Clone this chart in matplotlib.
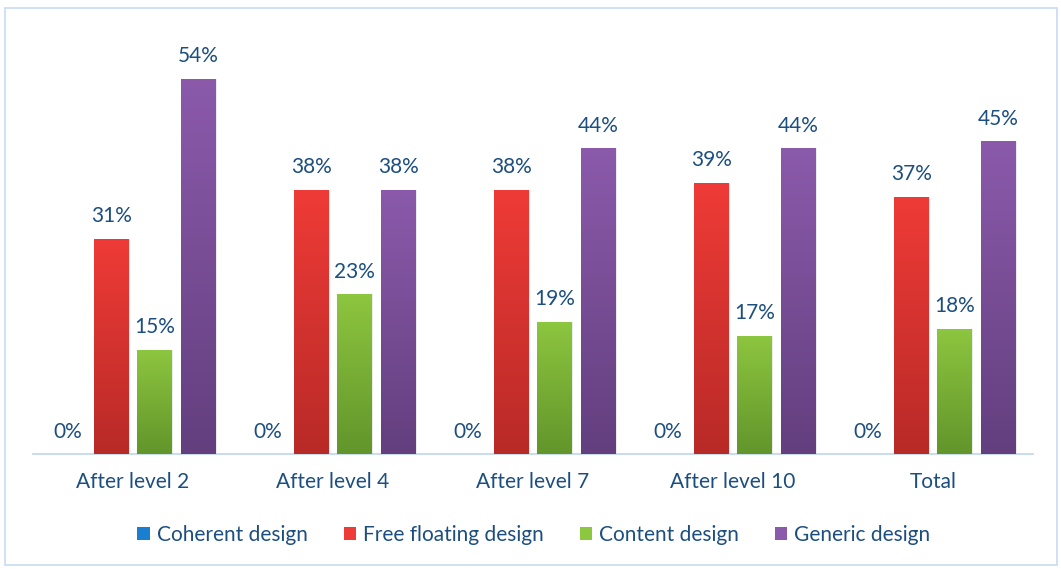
import numpy as np
import matplotlib.pyplot as plt
from matplotlib.patches import Rectangle, Patch
from matplotlib.colors import LinearSegmentedColormap

# 数据：各阶段四类设计占比（%）
categories = ["After level 2", "After level 4", "After level 7", "After level 10", "Total"]
series_names = ["Coherent design", "Free floating design", "Content design", "Generic design"]
coherent = [0, 0, 0, 0, 0]
free_floating = [31, 38, 38, 39, 37]
content = [15, 23, 19, 17, 18]
generic = [54, 38, 44, 44, 45]

plt.rcParams['font.family'] = ['Lato', 'DejaVu Sans']

# 渐变色：上浅下深
colors = [("#1a7fd0", "#0062a8"),
          ("#ef3b37", "#b82a27"),
          ("#8dc63f", "#62952b"),
          ("#8b5aab", "#633f7e")]
text_color = "#1c4e80"

fig = plt.figure(figsize=(10.61, 5.69), dpi=100)
ax = fig.add_axes([33 / 1061, 1 - 454 / 569, 1000 / 1061, 417 / 569])

x = np.arange(len(categories))
width = 0.175
step = 0.2175
all_series = [coherent, free_floating, content, generic]

for i, vals in enumerate(all_series):
    offs = (i - 1.5) * step
    top_c, bot_c = colors[i]
    cmap = LinearSegmentedColormap.from_list("g%d" % i, [bot_c, top_c])
    bars = ax.bar(x + offs, vals, width, color=top_c, linewidth=0, zorder=2)
    for b, v in zip(bars, vals):
        if v > 0:
            bx, bw = b.get_x(), b.get_width()
            # 淡阴影
            ax.add_patch(Rectangle((bx + 0.006, 0), bw, v, color="#000000",
                                   alpha=0.08, linewidth=0, zorder=1))
            grad = np.linspace(0, 1, 256).reshape(-1, 1)
            im = ax.imshow(grad, extent=(bx, bx + bw, 0, v), origin="lower",
                           cmap=cmap, aspect="auto", zorder=3)
            im.set_clip_path(b)
        ax.annotate(f"{v}%", (b.get_x() + b.get_width() / 2, v),
                    xytext=(0, 9), textcoords="offset points",
                    ha="center", va="bottom", fontsize=15, color=text_color)

ax.set_xlim(-0.5, len(categories) - 0.5)
ax.set_ylim(0, 60)
ax.set_yticks([])
ax.set_xticks(x, categories)
ax.tick_params(axis="x", length=0, pad=13, labelsize=15, labelcolor=text_color)
for s in ["top", "right", "left"]:
    ax.spines[s].set_visible(False)
ax.spines["bottom"].set_color("#bdd7ee")
ax.spines["bottom"].set_linewidth(1.2)

handles = [Patch(facecolor=c[0], edgecolor="none") for c in colors]
leg = fig.legend(handles, series_names, loc="center", bbox_to_anchor=(534 / 1061, 1 - 535 / 569),
                 ncol=4, frameon=False, fontsize=15, handlelength=0.6, handleheight=0.6,
                 handletextpad=0.35, columnspacing=1.7)
for t in leg.get_texts():
    t.set_color(text_color)

# 外框
fig.patches.append(Rectangle((5 / 1061, 1 - 565 / 569), 1052 / 1061, 557 / 569,
                             transform=fig.transFigure, fill=False,
                             edgecolor="#c6dcf0", linewidth=1.2))

fig.savefig("out.png", dpi=100)
